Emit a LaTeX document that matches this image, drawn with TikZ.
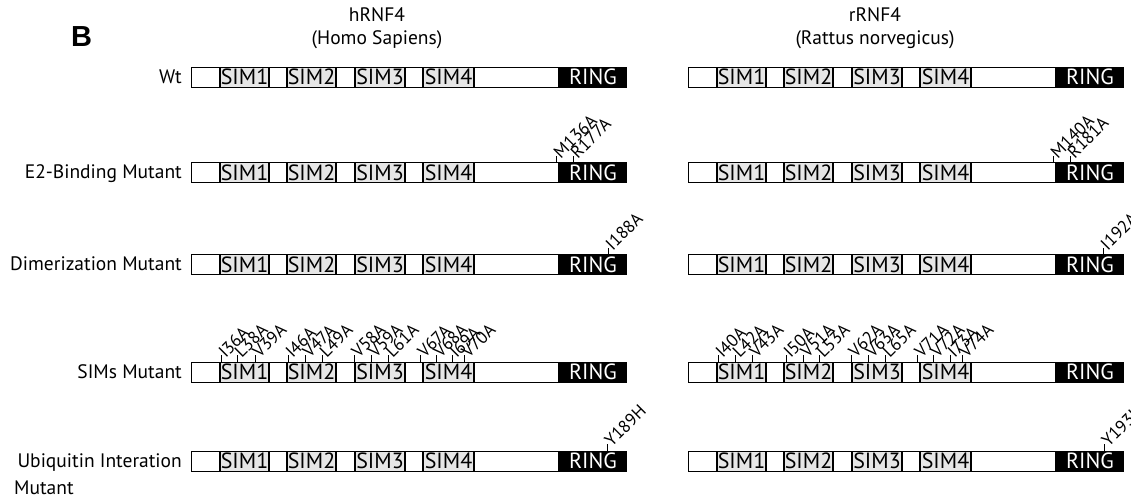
\documentclass[tikz,border=0pt]{standalone}
\usepackage{fontspec}
\setmainfont{PT Sans}
\newfontfamily\panelfont{Liberation Sans}
\usetikzlibrary{positioning}
\definecolor{sim_grey}{RGB}{230, 230, 230}
\tikzstyle{seg}=[draw=black,fill=white,line width=1pt,inner sep=0pt,
  minimum height=20pt,anchor=west,font=\fontsize{22}{24}\selectfont]
\tikzstyle{sim}=[seg,fill=sim_grey]
\tikzstyle{ring}=[seg,fill=black,text=white]
\tikzstyle{mut}=[rotate=45,anchor=west,inner sep=0.5pt,font=\fontsize{17.5}{19}\selectfont]
\tikzstyle{rowlabel}=[anchor=base east,inner sep=0pt,font=\fontsize{19.5}{22}\selectfont]
\tikzstyle{head}=[anchor=base,inner sep=0pt,font=\fontsize{19.5}{22}\selectfont]

\begin{document}
\begin{tikzpicture}[x=1pt,y=-1pt]
    \useasboundingbox (0,0) rectangle (1131,499);
    \node [anchor=base west,inner sep=0pt,font=\panelfont\bfseries\fontsize{29}{30}\selectfont] (panel) at (71,46) {B};
    \node [style=head] (hname) at (377,21) {hRNF4};
    \node [style=head] (hspec) at (377,44) {(Homo Sapiens)};
    \node [style=head] (rname) at (875,21) {rRNF4};
    \node [style=head] (rspec) at (875,44) {(Rattus norvegicus)};
    \node [style=rowlabel] (wt) at (182,83) {Wt};
    \node [style=rowlabel] (e2) at (182,178.5) {E2-Binding Mutant};
    \node [style=rowlabel] (dim) at (182,270.5) {Dimerization Mutant};
    \node [style=rowlabel] (sims) at (182,378) {SIMs Mutant};
    \node [style=rowlabel] (ubq) at (182,467) {Ubiquitin Interation};
    \node [anchor=base west,inner sep=0pt,font=\fontsize{19.5}{22}\selectfont] (ubq2) at (14,494) {Mutant};
    % domain bars
    \foreach \row/\yc in {wt/77,e2/172.5,dim/264.5,sims/372,ubq/461}{
      \foreach \sp/\xl in {h/191,r/688}{
        \node [seg,minimum width=28pt] (\sp\row-a) at (\xl,\yc) {};
        \node [sim,minimum width=48pt,right=0pt of \sp\row-a] (\sp\row-b) {SIM1};
        \node [seg,minimum width=17pt,right=0pt of \sp\row-b] (\sp\row-c) {};
        \node [sim,minimum width=48pt,right=0pt of \sp\row-c] (\sp\row-d) {SIM2};
        \node [seg,minimum width=18pt,right=0pt of \sp\row-d] (\sp\row-e) {};
        \node [sim,minimum width=49pt,right=0pt of \sp\row-e] (\sp\row-f) {SIM3};
        \node [seg,minimum width=17pt,right=0pt of \sp\row-f] (\sp\row-g) {};
        \node [sim,minimum width=50pt,right=0pt of \sp\row-g] (\sp\row-h) {SIM4};
        \node [seg,minimum width=84pt,right=0pt of \sp\row-h] (\sp\row-i) {};
        \node [ring,minimum width=67pt,right=0pt of \sp\row-i] (\sp\row-j) {RING};
      }
    }
    % point mutations
    \foreach \xm/\yt/\mname [count=\i] in {556/162.5/M136A,573/162.5/R177A,1053/162.5/M140A,1070/162.5/R181A,
        608/254.5/I188A,1103/254.5/I192A,607/451/Y189H,1104/451/Y193H,
        221/362/I36A,237/362/L38A,255/362/V39A,288/362/I46A,305/362/V47A,322/362/L49A,
        354/362/V58A,371/362/V59A,388/362/L61A,420/362/V67A,436/362/V68A,452/362/I69A,464/362/V70A,
        718/362/I40A,735/362/L42A,752/362/V43A,786/362/I50A,803/362/V51A,819/362/L53A,
        851/362/V62A,868/362/V63A,885/362/L65A,917/362/V71A,933/362/V72A,950/362/I73A,962/362/V74A}{
      \coordinate (t\i) at (\xm,\yt);
      \node [style=mut] (m\i) at (\xm,\yt-7) {\mname};
      \draw [line width=1pt] (t\i) -- (m\i.west);
    }
\end{tikzpicture}
\end{document}
